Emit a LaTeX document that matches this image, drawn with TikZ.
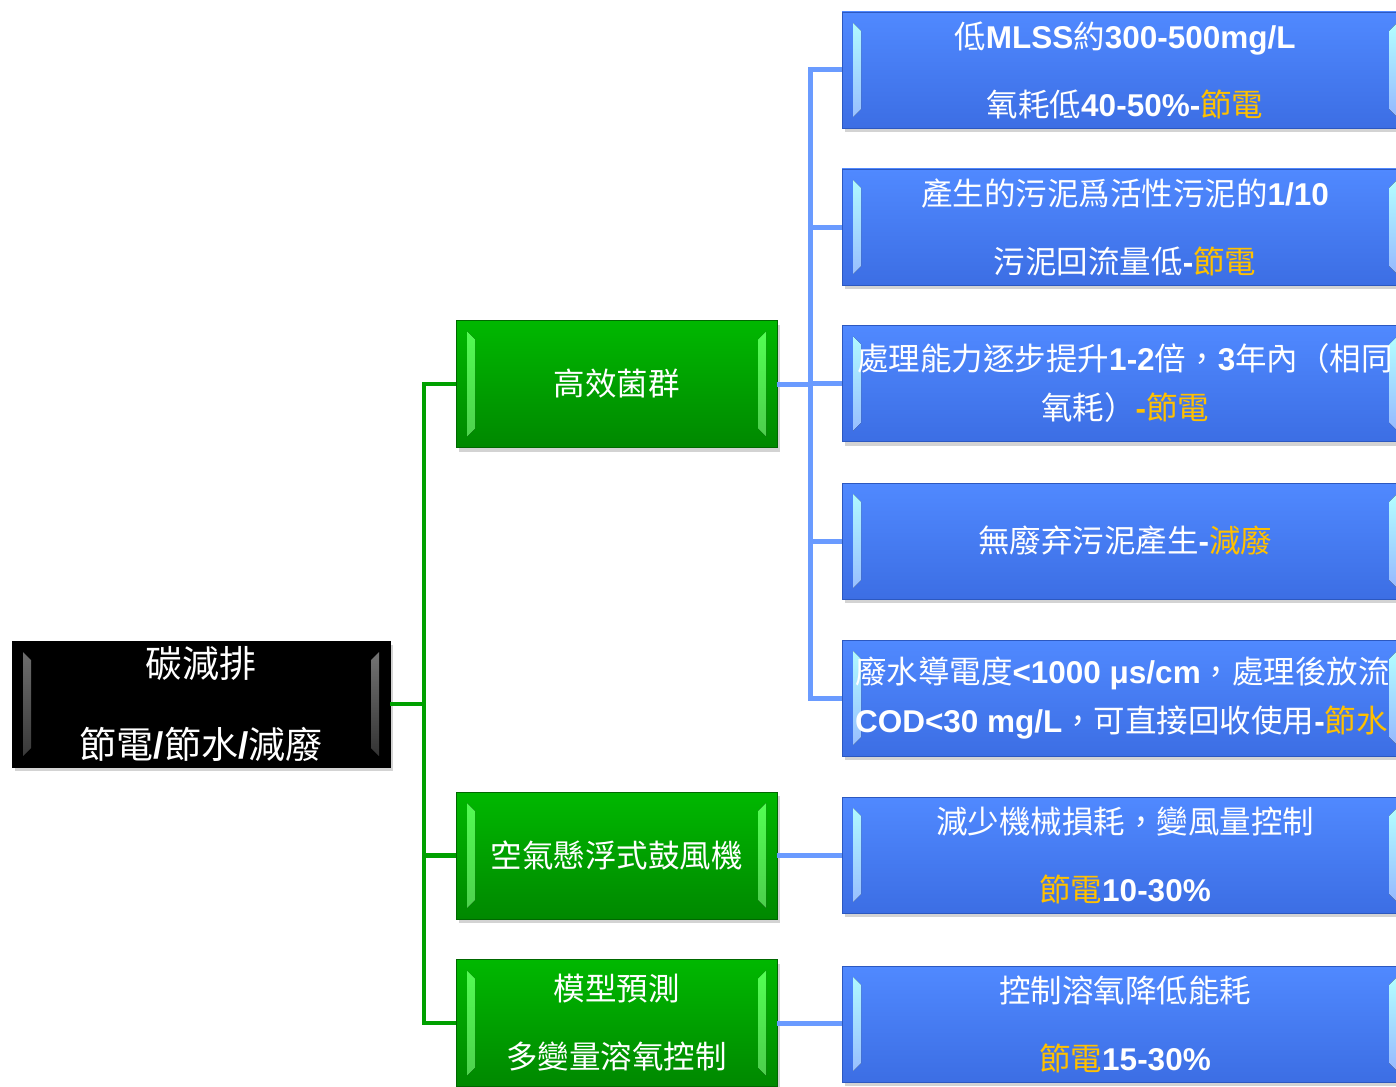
\documentclass[tikz,border=0pt]{standalone}
\usepackage{fontspec}
\setmainfont{Noto Sans CJK TC}
\newfontfamily\latf{Liberation Sans}
\usetikzlibrary{calc,shadows}
\definecolor{ylw}{HTML}{FFC000}
\definecolor{btop}{HTML}{5089FF}
\definecolor{bbot}{HTML}{3C6EE4}
\definecolor{bdrw}{HTML}{2C58C0}
\definecolor{gtop}{HTML}{00B800}
\definecolor{gbot}{HTML}{008800}
\definecolor{gdrw}{HTML}{006800}
\definecolor{gline}{HTML}{00A000}
\definecolor{bline}{HTML}{6A9BFF}
\newcommand\Lb[1]{{\latf\bfseries #1}}
\newcommand\Y[1]{\textcolor{ylw}{#1}}
\tikzset{
  bevel/.style 2 args={path picture={
    \fill[top color=#1, bottom color=#2]
      ($(path picture bounding box.north west)+(11,11)$) --
      ($(path picture bounding box.north west)+(19,19)$) --
      ($(path picture bounding box.south west)+(19,-19)$) --
      ($(path picture bounding box.south west)+(11,-11)$) -- cycle;
    \fill[top color=#1, bottom color=#2]
      ($(path picture bounding box.north east)+(-11,11)$) --
      ($(path picture bounding box.north east)+(-19,19)$) --
      ($(path picture bounding box.south east)+(-19,-19)$) --
      ($(path picture bounding box.south east)+(-11,-11)$) -- cycle;
  }},
  shade/.style={drop shadow={shadow xshift=3pt, shadow yshift=-4pt, opacity=0.35}},
  rootbox/.style={rectangle, draw=black, fill=black, text=white, inner sep=0pt,
    minimum width=378pt, minimum height=126pt, align=center,
    font=\fontsize{37}{81}\selectfont, shade, bevel={black!55}{black!80}},
  gbox/.style={rectangle, draw=gdrw, line width=0.8pt, top color=gtop, bottom color=gbot,
    text=white, inner sep=0pt, minimum width=321pt, minimum height=127pt, align=center,
    font=\fontsize{31.5}{68}\selectfont, shade, bevel={green!75!white!90}{gtop!70!white}},
  bbox/.style={rectangle, draw=bdrw, line width=0.8pt, top color=btop, bottom color=bbot,
    text=white, inner sep=0pt, minimum width=566pt, minimum height=116pt, align=center,
    font=\fontsize{31.5}{68}\selectfont, shade, bevel={cyan!30!white}{btop!60!white}},
  tightlines/.style={font=\fontsize{31.5}{49}\selectfont},
  glink/.style={draw=gline, line width=4.5pt},
  blink/.style={draw=bline, line width=5pt},
}
\begin{document}
\begin{tikzpicture}[x=1pt,y=-1pt]
\useasboundingbox (0,0) rectangle (1396,1086);
\coordinate (gx) at (424,0);
\coordinate (bx) at (810,0);
% connectors first (under boxes)
\path (201,704) coordinate (rc) (616.5,384) coordinate (g1c) (616.5,855.5) coordinate (g2c) (616.5,1023) coordinate (g3c);
\node[rootbox] (r) at (rc) {碳減排\\節電\Lb{/}節水\Lb{/}減廢};
\node[gbox] (g1) at (g1c) {高效菌群};
\node[gbox] (g2) at (g2c) {空氣懸浮式鼓風機};
\node[gbox] (g3) at (g3c) {模型預測\\多變量溶氧控制};
\node[bbox] (b1) at (1125,70) {低\Lb{MLSS}約\Lb{300-500mg/L}\\氧耗低\Lb{40-50\%-}\Y{節電}};
\node[bbox] (b2) at (1125,227) {產生的污泥爲活性污泥的\Lb{1/10}\\污泥回流量低\Lb{-}\Y{節電}};
\node[bbox, tightlines] (b3) at (1125,383.5) {處理能力逐步提升\Lb{1-2}倍，\Lb{3}年內（相同\\氧耗）\Y{\Lb{-}節電}};
\node[bbox] (b4) at (1125,541) {無廢弃污泥產生\Lb{-}\Y{減廢}};
\node[bbox, tightlines, align=left] (b5) at (1125,698) {\makebox[540pt][l]{廢水導電度\Lb{<1000 μs/cm}，處理後放流}\\\makebox[540pt][l]{\Lb{COD<30 mg/L}，可直接回收使用\Lb{-}\Y{節水}}};
\node[bbox] (b6) at (1125,855) {減少機械損耗，變風量控制\\\Y{節電}\Lb{10-30\%}};
\node[bbox] (b7) at (1125,1024) {控制溶氧降低能耗\\\Y{節電}\Lb{15-30\%}};
% green connectors
\draw[glink] (r.east) -- (r.east -| gx);
\draw[glink] (g1.west) -- (g1.west -| gx) -- (g3.west -| gx) -- (g3.west);
\draw[glink] (g2.west -| gx) -- (g2.west);
% blue connectors
\draw[blink] (b1.west) -- (b1.west -| bx) -- (b5.west -| bx) -- (b5.west);
\draw[blink] (b2.west -| bx) -- (b2.west);
\draw[blink] (b3.west -| bx) -- (b3.west);
\draw[blink] (b4.west -| bx) -- (b4.west);
\draw[blink] (g1.east) -- (g1.east -| bx);
\draw[blink] (g2.east) -- (g2.east -| b6.west);
\draw[blink] (g3.east) -- (g3.east -| b7.west);
\end{tikzpicture}
\end{document}
